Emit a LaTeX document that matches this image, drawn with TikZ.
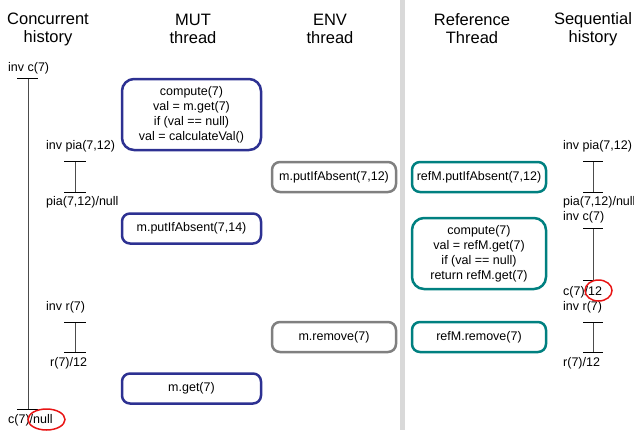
\documentclass[tikz,border=0pt]{standalone}
\usepackage{fontspec}
\setmainfont{Liberation Sans}
\usetikzlibrary{shapes.geometric}
\definecolor{mutblue}{RGB}{45,49,146}
\definecolor{envgray}{RGB}{128,128,128}
\definecolor{refteal}{RGB}{0,128,128}
\definecolor{divgray}{RGB}{217,217,217}
\definecolor{ringred}{RGB}{232,20,20}
\begin{document}
\begin{tikzpicture}[x=1pt,y=-1pt,
  hdr/.style={align=center,font=\fontsize{16.5}{18}\selectfont,inner sep=0},
  lbl/.style={anchor=west,inner sep=0,font=\fontsize{12.5}{15}\selectfont},
  box/.style={draw,rounded corners=8pt,line width=2.5pt,minimum width=139pt,minimum height=30pt,align=center,font=\fontsize{12.5}{15}\selectfont,inner sep=0},
  mut/.style={box,draw=mutblue},
  env/.style={box,draw=envgray,minimum width=124pt},
  reft/.style={box,draw=refteal,minimum width=134pt},
  tline/.style={draw=black!70,line width=1pt},
  tickl/.style={draw=black,line width=1pt},
  ring/.style={ellipse,draw=ringred,line width=1.5pt,inner sep=0}
]
\useasboundingbox (0,0) rectangle (634,432);
% divider
\fill[divgray] (400,0) rectangle (405,430);
% headers
\node[hdr] (h1) at (48,29) {Concurrent\\history};
\node[hdr] (h2) at (193,29) {MUT\\thread};
\node[hdr] (h3) at (330,29) {ENV\\thread};
\node[hdr] (h4) at (472,29) {Reference\\Thread};
\node[hdr] (h5) at (593,29) {Sequential\\history};
% MUT thread
\node[mut,rounded corners=12pt,minimum height=71pt] (m1) at (191.5,114.5) {compute(7)\\val = m.get(7)\\if (val == null)\\val = calculateVal()};
\node[mut] (m2) at (191.5,228.5) {m.putIfAbsent(7,14)};
\node[mut] (m3) at (191.5,388.5) {m.get(7)};
% ENV thread
\node[env] (e1) at (334,177) {m.putIfAbsent(7,12)};
\node[env] (e2) at (334,337) {m.remove(7)};
% Reference thread
\node[reft] (r1) at (479,177) {refM.putIfAbsent(7,12)};
\node[reft,rounded corners=12pt,minimum height=71pt] (r2) at (479,253.5) {compute(7)\\val = refM.get(7)\\if (val == null)\\return refM.get(7)};
\node[reft] (r3) at (479,337) {refM.remove(7)};
% Concurrent history
\node[lbl] (l1) at (8,68) {inv c(7)};
\node[lbl] (l2) at (8,420) {c(7)/null};
\node[lbl] (l3) at (46,146) {inv pia(7,12)};
\node[lbl] (l4) at (46,202) {pia(7,12)/null};
\node[lbl] (l5) at (46,307) {inv r(7)};
\node[lbl] (l6) at (50,363) {r(7)/12};
\coordinate (ca) at (28,78); \coordinate (cb) at (28,409);
\coordinate (pa) at (75,161); \coordinate (pb) at (75,192);
\coordinate (ra) at (75,322); \coordinate (rb) at (75,352);
\draw[tline] (ca) -- (cb);
\draw[tickl] ([xshift=-11pt]ca) -- ([xshift=10pt]ca);
\draw[tickl] ([xshift=-11pt]cb) -- ([xshift=10pt]cb);
\draw[tline] (pa) -- (pb);
\draw[tickl] ([xshift=-11pt]pa) -- ([xshift=11pt]pa);
\draw[tickl] ([xshift=-11pt]pb) -- ([xshift=11pt]pb);
\draw[tline] (ra) -- (rb);
\draw[tickl] ([xshift=-11pt]ra) -- ([xshift=11pt]ra);
\draw[tickl] ([xshift=-11pt]rb) -- ([xshift=11pt]rb);
\node[ring,minimum width=37pt,minimum height=21pt] (o1) at (46.5,419.5) {};
% Sequential history
\node[lbl] (s1) at (563,146) {inv pia(7,12)};
\node[lbl] (s2) at (563,202) {pia(7,12)/null};
\node[lbl] (s3) at (563,217) {inv c(7)};
\node[lbl] (s4) at (563,292) {c(7)/12};
\node[lbl] (s5) at (563,307) {inv r(7)};
\node[lbl] (s6) at (563,363) {r(7)/12};
\coordinate (spa) at (593,161); \coordinate (spb) at (593,192);
\coordinate (sca) at (593,228); \coordinate (scb) at (593,280);
\coordinate (sra) at (593,322); \coordinate (srb) at (593,352);
\draw[tline] (spa) -- (spb);
\draw[tickl] ([xshift=-10pt]spa) -- ([xshift=10pt]spa);
\draw[tickl] ([xshift=-10pt]spb) -- ([xshift=10pt]spb);
\draw[tline] (sca) -- (scb);
\draw[tickl] ([xshift=-10pt]sca) -- ([xshift=10pt]sca);
\draw[tickl] ([xshift=-10pt]scb) -- ([xshift=10pt]scb);
\draw[tline] (sra) -- (srb);
\draw[tickl] ([xshift=-10pt]sra) -- ([xshift=10pt]sra);
\draw[tickl] ([xshift=-10pt]srb) -- ([xshift=10pt]srb);
\node[ring,minimum width=27pt,minimum height=21pt] (o2) at (598.5,290.5) {};
\end{tikzpicture}
\end{document}
